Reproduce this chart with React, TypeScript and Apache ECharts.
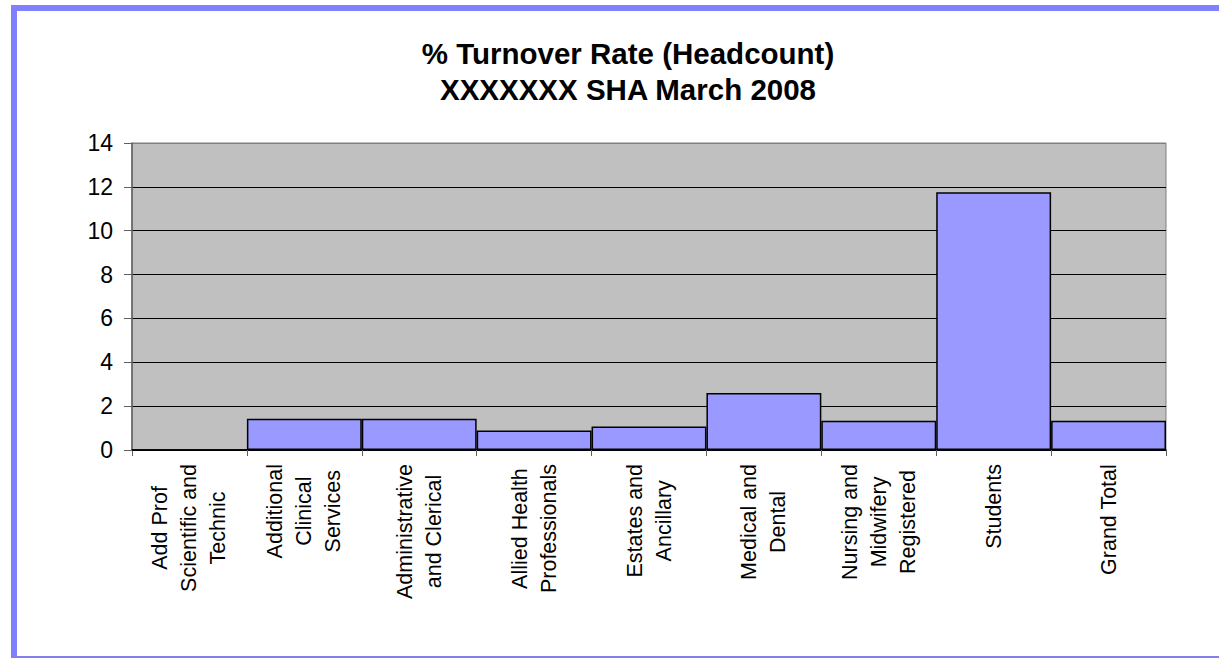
import React, { useEffect, useRef } from "react";
import * as echarts from "echarts";

const categories: string[] = [
  "Add Prof\nScientific and\nTechnic",
  "Additional\nClinical\nServices",
  "Administrative\nand Clerical",
  "Allied Health\nProfessionals",
  "Estates and\nAncillary",
  "Medical and\nDental",
  "Nursing and\nMidwifery\nRegistered",
  "Students",
  "Grand Total",
];
const turnoverRate: number[] = [0, 1.42, 1.42, 0.89, 1.07, 2.6, 1.33, 11.75, 1.33];
const titleLines: string[] = ["% Turnover Rate (Headcount)", "XXXXXXX SHA March 2008"];
const yMin = 0;
const yMax = 14;
const yInterval = 2;

const FONT = "'Liberation Sans', Arial, sans-serif";

export default function App() {
  const ref = useRef<HTMLDivElement>(null);
  useEffect(() => {
    document.body.style.margin = "0";
    const chart = echarts.init(ref.current!, undefined, { renderer: "svg" });
    const splitColors: string[] = [];
    for (let v = yMin; v <= yMax; v += yInterval) {
      splitColors.push(v === yMax ? "#808080" : "#000000");
    }
    chart.setOption({
      animation: false,
      backgroundColor: "#ffffff",
      title: {
        text: titleLines.join("\n"),
        left: 623,
        top: 30,
        textAlign: "center",
        textStyle: {
          fontFamily: FONT,
          fontSize: 29.5,
          fontWeight: "bold",
          lineHeight: 36,
          color: "#000000",
        },
      },
      graphic: [
        { type: "rect", shape: { x: 11, y: 5, width: 6, height: 653 }, style: { fill: "#8080FF" }, silent: true },
        { type: "rect", shape: { x: 11, y: 5, width: 1208, height: 6 }, style: { fill: "#8080FF" }, silent: true },
        { type: "rect", shape: { x: 11, y: 656, width: 1208, height: 2 }, style: { fill: "#8080E8" }, silent: true },
      ],
      grid: {
        left: 132,
        top: 143,
        right: 53,
        bottom: 208,
        show: true,
        backgroundColor: "#C0C0C0",
        borderColor: "#808080",
        borderWidth: 1,
      },
      xAxis: {
        type: "category",
        data: categories,
        boundaryGap: true,
        axisLine: { show: true, lineStyle: { color: "#000000", width: 1.5 } },
        axisTick: { show: true, length: 6, lineStyle: { color: "#606060" } },
        axisLabel: {
          interval: 0,
          rotate: 90,
          margin: 14,
          fontFamily: FONT,
          fontSize: 21,
          lineHeight: 29,
          color: "#000000",
          formatter: (v: string) =>
            v
              .split("\n")
              .map((l) => "{c|" + l + "}")
              .join("\n"),
          rich: {
            c: { align: "center", fontFamily: FONT, fontSize: 21.5, lineHeight: 29, color: "#000000" },
          },
        },
      },
      yAxis: {
        type: "value",
        min: yMin,
        max: yMax,
        interval: yInterval,
        axisLine: { show: true, lineStyle: { color: "#606060", width: 1.5 } },
        axisTick: { show: true, length: 8, lineStyle: { color: "#606060" } },
        axisLabel: {
          margin: 19,
          fontFamily: FONT,
          fontSize: 23,
          color: "#000000",
        },
        splitLine: { show: true, lineStyle: { color: splitColors, width: 1 } },
      },
      series: [
        {
          type: "bar",
          data: turnoverRate,
          barCategoryGap: "0%",
          itemStyle: { color: "#9999FF", borderColor: "#000000", borderWidth: 1.5 },
        },
      ],
    });
    return () => chart.dispose();
  }, []);
  return <div ref={ref} style={{ width: 1219, height: 658 }} />;
}
